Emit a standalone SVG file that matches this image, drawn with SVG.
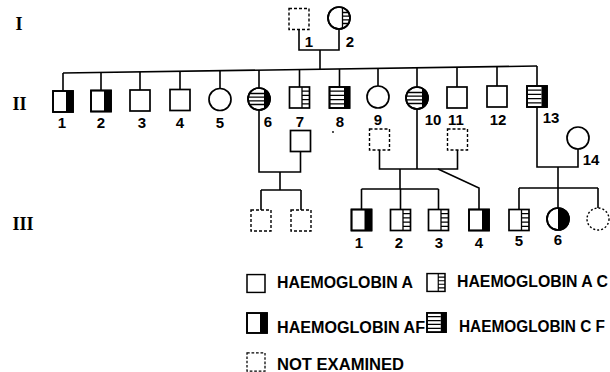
<svg xmlns="http://www.w3.org/2000/svg" xmlns:xlink="http://www.w3.org/1999/xlink" width="610" height="372" viewBox="0 0 610 372">
<style>
  .sh{fill:#fff;stroke:#000;stroke-width:1.7}
  .ne{fill:#fff;stroke:#000;stroke-width:1.4;stroke-dasharray:3 2}
  .st{fill:none;stroke:#000;stroke-width:1.3}
  .blk{fill:#000}
  .con path{fill:none;stroke:#000;stroke-width:1.6}
  .lbl{font-family:"Liberation Sans",Arial,sans-serif;font-weight:bold;font-size:15px;text-anchor:middle;fill:#000}
  .leg{font-family:"Liberation Sans",Arial,sans-serif;font-weight:bold;font-size:16px;fill:#000}
  .gen{font-family:"Liberation Serif","Times New Roman",serif;font-weight:bold;font-size:18px;text-anchor:middle;fill:#000}
</style>
<defs>
  <clipPath id="cc"><circle cx="0" cy="0" r="11"/></clipPath>
  <g id="sA"><rect class="sh" x="-10" y="-10.5" width="20" height="21"/></g>
  <g id="sNE"><rect class="ne" x="-10" y="-10.5" width="20" height="21"/></g>
  <g id="sAF"><rect class="sh" x="-10" y="-10.5" width="20" height="21"/><rect class="blk" x="3" y="-10.5" width="7" height="21"/><rect x="-10" y="-10.5" width="20" height="21" fill="none" stroke="#000" stroke-width="1.7"/></g>
  <g id="sAC"><rect class="sh" x="-10" y="-10.5" width="20" height="21"/><path class="st" d="M2.5,-10.5V10.5M2.5,-6.3H10M2.5,-2.1H10M2.5,2.1H10M2.5,6.3H10"/></g>
  <g id="sCF"><rect class="sh" x="-10" y="-10.5" width="20" height="21"/><path class="st" d="M-10,-6.3H4.5M-10,-2.1H4.5M-10,2.1H4.5M-10,6.3H4.5"/><rect class="blk" x="4.5" y="-10.5" width="5.5" height="21"/><rect x="-10" y="-10.5" width="20" height="21" fill="none" stroke="#000" stroke-width="1.7"/></g>
  <g id="cA"><circle class="sh" cx="0" cy="0" r="11"/></g>
  <g id="cNE"><circle cx="0" cy="0" r="11" fill="#fff" stroke="#000" stroke-width="1.4" stroke-dasharray="2 2"/></g>
  <g id="cAF"><circle class="sh" cx="0" cy="0" r="11"/><path class="blk" d="M0,-11A11,11 0 0 1 0,11Z"/><circle cx="0" cy="0" r="11" fill="none" stroke="#000" stroke-width="1.7"/></g>
  <g id="cCF"><circle class="sh" cx="0" cy="0" r="11"/><g clip-path="url(#cc)"><path class="st" d="M-11,-5.5H5M-11,-1.8H5M-11,1.8H5M-11,5.5H5"/><rect class="blk" x="5" y="-11" width="7" height="22"/></g><circle cx="0" cy="0" r="11" fill="none" stroke="#000" stroke-width="1.7"/></g>
  <g id="cAC"><circle class="sh" cx="0" cy="0" r="11"/><g clip-path="url(#cc)"><path class="st" d="M3.5,-11V11M3.5,-5.5H11M3.5,-1.8H11M3.5,1.8H11M3.5,5.5H11"/></g><circle cx="0" cy="0" r="11" fill="none" stroke="#000" stroke-width="1.7"/></g>
</defs>
<rect width="610" height="372" fill="#fff"/>

<g id="generations">
  <text class="gen" x="19" y="30">I</text>
  <text class="gen" x="19.5" y="110">II</text>
  <text class="gen" x="23" y="230">III</text>
</g>

<g id="connectors" class="con">
  <path d="M299,29.5V50H339V29"/>
  <path d="M320,50V69.2"/>
  <path d="M63,73L537,66"/>
  <path d="M63,73V91M101,72.4V90.5M140,71.9V90M180,71.3V89.5M220,70.7V88.5M259,70.1V88M299.5,69.5V87M339.5,68.9V87M378,68.4V86M417,67.8V87M457,67.2V87M497,66.6V86M537,66V86"/>
  <path d="M259,110V172H300.5V151.5"/>
  <path d="M280,172V190M261,190H301M261,190V210M301,190V210"/>
  <path d="M379.5,150V169H457.5V150M417,109V169"/>
  <path d="M400,169V189M361.5,189H438.5M361.5,189V209.5M400.5,189V209.5M438.5,189V209.5"/>
  <path d="M438,169L479,188V209.5"/>
  <path d="M537,107V167H578V149"/>
  <path d="M558,167V188M519,188H598M519,188V209.5M558,188V208M598,188V208"/>
</g>

<g id="I-1"><use xlink:href="#sNE" x="299" y="19"/><text class="lbl" x="309" y="47">1</text></g>
<g id="I-2"><use xlink:href="#cAC" x="339" y="18"/><text class="lbl" x="350" y="47">2</text></g>

<g id="II-1"><use xlink:href="#sAF" x="63" y="101.5"/><text class="lbl" x="62" y="128">1</text></g>
<g id="II-2"><use xlink:href="#sAF" x="101" y="101"/><text class="lbl" x="101" y="128">2</text></g>
<g id="II-3"><use xlink:href="#sA" x="140" y="100.5"/><text class="lbl" x="142" y="128">3</text></g>
<g id="II-4"><use xlink:href="#sA" x="180" y="100"/><text class="lbl" x="180" y="128">4</text></g>
<g id="II-5"><use xlink:href="#cA" x="220" y="99.5"/><text class="lbl" x="220" y="128">5</text></g>
<g id="II-6"><use xlink:href="#cCF" x="259" y="99"/><text class="lbl" x="268" y="127">6</text></g>
<g id="II-7"><use xlink:href="#sAC" x="299.5" y="97.5"/><text class="lbl" x="300" y="127">7</text></g>
<g id="II-8"><use xlink:href="#sCF" x="339.5" y="97.5"/><text class="lbl" x="340" y="127">8</text></g>
<g id="II-9"><use xlink:href="#cA" x="378" y="97"/><text class="lbl" x="378" y="125">9</text></g>
<g id="II-10"><use xlink:href="#cCF" x="417" y="98"/><text class="lbl" x="433" y="125">10</text></g>
<g id="II-11"><use xlink:href="#sA" x="457" y="97.5"/><text class="lbl" x="456" y="125">11</text></g>
<g id="II-12"><use xlink:href="#sA" x="497" y="96.5"/><text class="lbl" x="498" y="125">12</text></g>
<g id="II-13"><use xlink:href="#sCF" x="537" y="96.5"/><text class="lbl" x="551" y="123">13</text></g>
<g id="II-14"><use xlink:href="#cA" x="578" y="138"/><text class="lbl" x="591" y="165">14</text></g>

<g id="II-6-spouse"><use xlink:href="#sA" x="300.5" y="141"/></g>
<g id="II-9-spouse"><use xlink:href="#sNE" x="379.5" y="139.5"/></g>
<g id="II-10-spouse"><use xlink:href="#sNE" x="457.5" y="139.5"/></g>
<circle cx="333" cy="132" r="0.9" fill="#000"/>

<g id="III-a"><use xlink:href="#sNE" x="261" y="220.5"/></g>
<g id="III-b"><use xlink:href="#sNE" x="301" y="220.5"/></g>
<g id="III-1"><use xlink:href="#sAF" x="361.5" y="220"/><text class="lbl" x="359" y="248">1</text></g>
<g id="III-2"><use xlink:href="#sAC" x="400.5" y="220"/><text class="lbl" x="399" y="248">2</text></g>
<g id="III-3"><use xlink:href="#sAC" x="438.5" y="220"/><text class="lbl" x="439" y="248">3</text></g>
<g id="III-4"><use xlink:href="#sAF" x="479" y="220"/><text class="lbl" x="479" y="248">4</text></g>
<g id="III-5"><use xlink:href="#sAC" x="519" y="220"/><text class="lbl" x="519" y="246">5</text></g>
<g id="III-6"><use xlink:href="#cAF" x="558" y="219"/><text class="lbl" x="558" y="245">6</text></g>
<g id="III-7"><use xlink:href="#cNE" x="598" y="219"/></g>

<g id="legend">
  <use xlink:href="#sA" transform="translate(256,283.5) scale(0.9,0.85)"/>
  <text class="leg" x="277" y="288" textLength="136" lengthAdjust="spacingAndGlyphs">HAEMOGLOBIN A</text>
  <use xlink:href="#sAC" transform="translate(436,282.5) scale(0.9,0.85)"/>
  <text class="leg" x="457" y="287" textLength="151" lengthAdjust="spacingAndGlyphs">HAEMOGLOBIN A C</text>
  <use xlink:href="#sAF" transform="translate(257,323) scale(1,0.95)"/>
  <text class="leg" x="277" y="333" textLength="148" lengthAdjust="spacingAndGlyphs">HAEMOGLOBIN AF</text>
  <use xlink:href="#sCF" transform="translate(436.5,322.5) scale(0.95,0.92)"/>
  <text class="leg" x="459" y="332" textLength="146" lengthAdjust="spacingAndGlyphs">HAEMOGLOBIN C F</text>
  <use xlink:href="#sNE" transform="translate(256,362) scale(0.9,0.86)"/>
  <text class="leg" x="277" y="370" textLength="127" lengthAdjust="spacingAndGlyphs">NOT EXAMINED</text>
</g>
</svg>
